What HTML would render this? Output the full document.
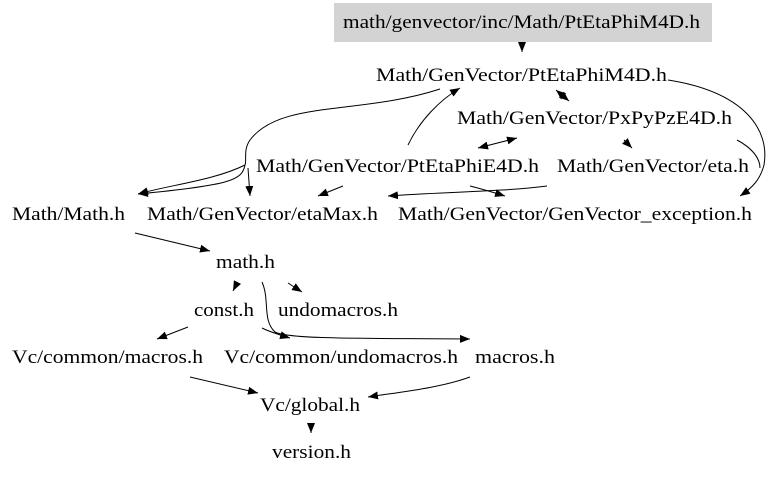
<!DOCTYPE html>
<html><head><meta charset="utf-8"><style>
html,body{margin:0;padding:0;background:#fff;}
svg{display:block;}
text{font-family:"Liberation Serif",serif;font-size:18.5px;fill:#000;}
</style></head><body>
<svg width="768" height="478" viewBox="0 0 768 478" xmlns="http://www.w3.org/2000/svg">
<defs>
<marker id="a" markerWidth="10" markerHeight="8" refX="10" refY="4" orient="auto" markerUnits="userSpaceOnUse">
<path d="M0,0 L10,4 L0,8 Z" fill="#000"/></marker>
<marker id="b" markerWidth="10" markerHeight="8" refX="0" refY="4" orient="auto" markerUnits="userSpaceOnUse">
<path d="M10,0 L0,4 L10,8 Z" fill="#000"/></marker>
</defs>
<rect x="334" y="3" width="378" height="39" fill="#d3d3d3"/>
<text x="343" y="28" textLength="357" lengthAdjust="spacingAndGlyphs">math/genvector/inc/Math/PtEtaPhiM4D.h</text>
<text x="376" y="81" textLength="291" lengthAdjust="spacingAndGlyphs">Math/GenVector/PtEtaPhiM4D.h</text>
<text x="457" y="124" textLength="275" lengthAdjust="spacingAndGlyphs">Math/GenVector/PxPyPzE4D.h</text>
<text x="256" y="172" textLength="283" lengthAdjust="spacingAndGlyphs">Math/GenVector/PtEtaPhiE4D.h</text>
<text x="557" y="172" textLength="192" lengthAdjust="spacingAndGlyphs">Math/GenVector/eta.h</text>
<text x="12" y="220" textLength="113" lengthAdjust="spacingAndGlyphs">Math/Math.h</text>
<text x="147" y="220" textLength="231" lengthAdjust="spacingAndGlyphs">Math/GenVector/etaMax.h</text>
<text x="398" y="220" textLength="354" lengthAdjust="spacingAndGlyphs">Math/GenVector/GenVector_exception.h</text>
<text x="216" y="268" textLength="59" lengthAdjust="spacingAndGlyphs">math.h</text>
<text x="194" y="316" textLength="60" lengthAdjust="spacingAndGlyphs">const.h</text>
<text x="278" y="316" textLength="120" lengthAdjust="spacingAndGlyphs">undomacros.h</text>
<text x="12" y="363" textLength="191" lengthAdjust="spacingAndGlyphs">Vc/common/macros.h</text>
<text x="224" y="363" textLength="234" lengthAdjust="spacingAndGlyphs">Vc/common/undomacros.h</text>
<text x="475" y="363" textLength="80" lengthAdjust="spacingAndGlyphs">macros.h</text>
<text x="260" y="411" textLength="100" lengthAdjust="spacingAndGlyphs">Vc/global.h</text>
<text x="272" y="458" textLength="79" lengthAdjust="spacingAndGlyphs">version.h</text>
<g fill="none" stroke="#000" stroke-width="1">
<path d="M522,42 L522,52" marker-end="url(#a)"/>
<path d="M668,80 C745,92 770,130 764,165 C760,180 752,188 740,196" marker-end="url(#a)"/>
<path d="M737,140 C752,148 760,158 760,168"/>
<path d="M556,90 L569,101" marker-start="url(#b)" marker-end="url(#a)"/>
<path d="M408,145 C420,120 440,100 460,88" marker-end="url(#a)"/>
<path d="M440,89 C360,115 280,100 250,140 C243,150 247,160 245,165"/>
<path d="M245,165 C215,180 170,185 138,194" marker-end="url(#a)"/>
<path d="M245,165 C242,180 232,185 138,194" marker-end="url(#a)"/>
<path d="M248,168 L250,196" marker-end="url(#a)"/>
<path d="M478,148 L517,138" marker-start="url(#b)" marker-end="url(#a)"/>
<path d="M624,140 L632,148" marker-end="url(#a)"/>
<path d="M343,186 L318,196" marker-end="url(#a)"/>
<path d="M547,186 C500,192 440,192 388,196" marker-end="url(#a)"/>
<path d="M470,186 C482,189 492,192 505,196" marker-end="url(#a)"/>
<path d="M135,233 L210,251" marker-end="url(#a)"/>
<path d="M237,283 L233,291" marker-end="url(#a)"/>
<path d="M288,283 L302,292" marker-end="url(#a)"/>
<path d="M262,282 C270,300 262,320 275,332 C290,340 380,338 470,339" marker-end="url(#a)"/>
<path d="M188,327 L157,339" marker-end="url(#a)"/>
<path d="M262,328 C270,332 280,335 290,338" marker-end="url(#a)"/>
<path d="M190,377 L258,393" marker-end="url(#a)"/>
<path d="M470,377 C440,388 400,392 368,397" marker-end="url(#a)"/>
<path d="M311,424 L311,433" marker-end="url(#a)"/>
</g>
</svg>
</body></html>
